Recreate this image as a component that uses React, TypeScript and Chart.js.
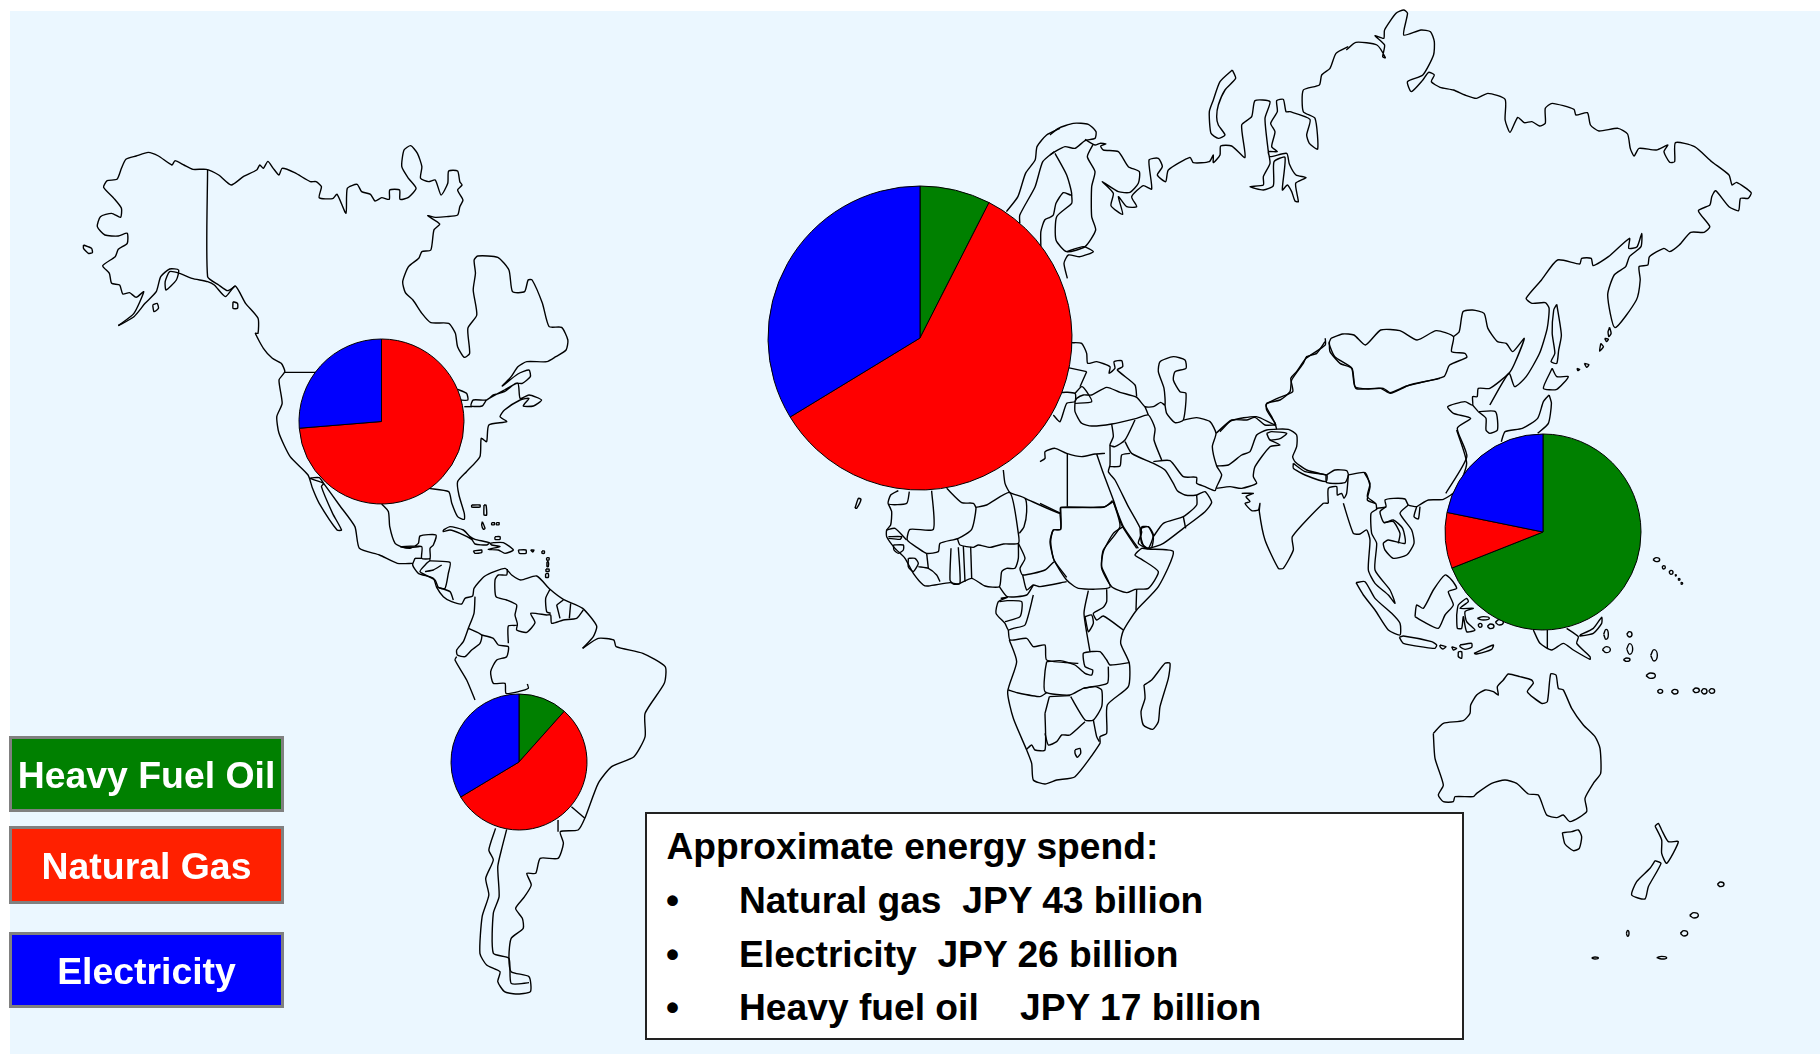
import React, { useEffect, useRef } from "react";
import { Chart, registerables } from "chart.js";

Chart.register(...registerables);

const categories = ["Heavy Fuel Oil", "Natural Gas", "Electricity"];
const pieColors = ["#008000", "#FF0000", "#0000FF"];
const legendColors = ["#008000", "#FF2000", "#0000FF"];

const europeShare = [7.5, 58.8, 33.7];
const northAmericaShare = [0, 73.7, 26.3];
const southAmericaShare = [11.6, 54.8, 33.6];
const asiaShare = [69, 9.2, 21.8];

const spendTitle = "Approximate energy spend:";
const spendLines = ["Natural gas  JPY 43 billion", "Electricity  JPY 26 billion", "Heavy fuel oil    JPY 17 billion"];

type Trace = { o: number[]; l: number[][] };

const northAmerica: Trace = { o: [0, 100, 2.24], l: [
  [265,677,300,640,322,575,305,592,290,578,275,582,268,555,250,550,245,520,230,497,258,470,265,448,285,430,285,400,265,408,235,405,218,380,225,350,250,340,270,352,272,325,255,295,232,262,240,242,262,238,272,205,282,178,305,168,332,157,355,168,385,195,392,182,412,195,432,208,462,208,490,225,518,255,545,230,575,210,582,195,590,205,600,184,612,205,625,225,632,205,660,218,695,245,708,245,720,260,715,293,745,296,755,283,775,340,778,265,800,253,810,275,830,283,840,303,855,293,872,298,873,270,895,270,896,298,915,292,932,265,915,235,900,200,905,150,920,137,935,160,945,200,942,235,960,245,975,240,988,285,1003,250,1005,213,1025,213,1030,245,1035,255,1025,270,1037,300,1030,320,1025,345,1000,350,975,352,958,347,985,372,972,390,965,450,945,455,938,475,915,500,902,545,908,578,925,600,945,640,965,668,1005,670,1020,700,1025,740,1040,772,1052,760,1048,685,1068,645,1060,570,1065,520,1062,480,1070,468,1115,472,1140,510,1148,575,1175,575,1183,540,1192,540,1215,610,1230,680,1258,682,1272,720,1268,750,1245,770,1225,785,1180,785,1160,800,1145,830,1125,858,1160,822,1185,810,1188,830,1170,850,1155,850,1130,875,1105,885,1090,900,1060,900,1055,918,1080,918,1090,900,1130,870,1160,850,1165,895,1185,885,1213,900,1195,918,1172,918,1185,895,1165,900,1130,930,1120,950,1135,965,1095,975,1090,1025,1078,1015,1075,1070,1045,1115,1025,1145,1028,1185,1040,1240,1040,1258,1025,1250,1012,1210,1005,1175,960,1165],
  [265,677,300,650,325,610,350,575,360,530,380,507,400,510,395,540,372,570,370,545,380,515,402,520,430,535,465,545,480,555,505,590,527,558,550,610,578,655,578,700,572,700,590,745,610,775,630,790,638,815,625,840,632,910,620,950,625,1000,650,1070,690,1125,700,1165,715,1210,755,1290,765,1290,745,1240,720,1160,725,1150,695,1135,715,1133,725,1150,760,1215,795,1280,805,1345,850,1365,890,1390,925,1390],
  [465,208,465,530,490,555,510,572,527,558],
  [638,817,710,817],
  [1040,920,1058,920],
  [1025,868,1045,880,1048,900,1030,900],
  [855,1212,870,1235,873,1280,885,1330,905,1343,940,1340],
  [187,435,205,445,207,458,198,460,187,445,187,435],
  [342,615,352,610,355,625,345,635,342,615],
  [522,605,532,610,532,625,522,625,522,605],
]};

const centralAmerica: Trace = { o: [400, 500, 3], l: [
  [0,140,30,145,55,130,60,108,108,105,100,135,90,145,90,175,65,175,65,140,0,140],
  [45,175,38,195,55,220,100,235,110,262,130,290,155,305,185,312,195,295,218,288,222,265,255,228,315,205,335,225,362,240,410,228,450,268,490,298,548,325,590,378,580,410,548,445],
  [45,175,65,175],
  [90,175,90,182,150,187,145,220,135,265,115,262,105,240,60,215,80,190,90,182],
  [75,215,100,210,125,195],
  [112,262,150,275,160,300],
  [130,90,150,80,190,90,210,110,225,118,268,128,260,135,225,132,215,118,180,100,150,90,130,95,130,90],
  [270,130,280,128,310,128,340,150,315,160,295,150,265,148,300,140,275,135,270,130],
  [220,153,245,150,245,158,225,160,220,153],
  [355,150,378,150,378,160,358,160,355,150],
  [392,150,402,150,398,156,392,150],
  [215,15,240,15,240,21,215,21,215,15],
  [252,15,258,15,260,45,252,45,252,15],
  [247,65,255,85,250,88,245,75,247,65],
  [275,68,283,68,283,74,275,74,275,68],
  [289,68,297,68,297,74,289,74,289,68],
  [285,110,300,110,300,118,285,118,285,110],
  [426,153,433,153,433,160,426,160,426,153],
  [440,173,447,173,447,180,440,180,440,173],
  [441,185,445,185,445,200,441,200,441,185],
  [438,207,447,207,447,214,438,214,438,207],
  [437,221,445,221,445,232,437,232,437,221],
  [322,207,320,225,295,225,285,240,288,290,320,300,350,315,345,345,352,375,325,378,325,430],
  [225,290,222,340,205,385,190,425,170,450,172,465,195,470,215,450,240,430,245,405,205,385],
  [245,405,280,415,295,435,325,440,320,470,290,480,272,515,280,550,315,550,318,580,355,575,385,565,382,552],
  [170,470,165,480,200,540,225,600],
  [352,375,350,390,380,397,405,368,392,340,440,345,452,345,455,370,490,360,530,355,550,330],
  [450,268,437,295,440,335,452,340],
  [470,315,480,355],
  [470,315,490,300],
  [512,310,508,355],
]};

const southAmerica: Trace = { o: [0, 550, 2.24], l: [
  [1305,295,1340,265,1375,270,1380,290,1440,310,1490,350,1488,400,1445,490,1445,560,1420,620,1370,650,1340,700,1310,805,1295,840,1255,845,1262,880,1250,925,1210,925,1200,970,1180,970,1190,1005,1175,1040,1155,1075,1170,1105,1172,1135,1145,1165,1140,1220,1145,1265,1185,1280,1188,1325,1155,1332,1130,1325,1115,1295,1120,1265,1090,1245,1075,1210,1080,1100,1095,1035,1088,985,1105,930,1095,900,1110,835],
  [1135,838,1125,890,1115,950,1118,1040,1105,1090,1105,1210,1140,1225,1145,1300,1185,1298],
  [1250,810,1250,845],
  [1310,805,1280,770],
]};

const europeNorth: Trace = { o: [1050, 40, 3], l: [
  [0,285,25,265,70,250,115,253,138,275,135,295,105,302,75,325,45,320,15,335,0,345],
  [15,340,50,405,65,465,40,458,18,490,10,525,0,532],
  [130,312,112,350,135,395,125,440,125,530,137,570,105,620,50,635,18,600,20,530,65,490,65,465],
  [50,635,100,620,130,635,90,650,55,645,42,670,52,715],
  [105,298,135,315,150,310,168,312,152,318,160,330,205,335,235,380,268,395,265,430,240,457,205,455,157,425,190,460,183,497,218,523,205,470,230,500,260,500,245,470,280,437,305,447,297,360,325,355,337,380,322,405,347,425,355,390,420,352,430,368,478,365,490,345,490,368,510,345,512,318,545,318,585,352,575,255,605,230,615,182,660,185,645,235,655,335,660,370,640,410,640,435,600,440,640,450,670,437,672,365,705,352,697,450,712,435,725,455,735,483,745,485,737,430,768,413,738,405,718,372,710,340,660,350,655,335,682,335,665,320,675,275,662,250,682,215,680,182,700,178,708,215,720,215,780,238,770,285,778,310,803,327,795,235,760,215,760,150,808,135,815,105,840,85,858,40,895,20],
  [547,90,557,115,525,150,505,195,500,230,505,255,525,285,505,295,483,280,478,215,490,180,510,125,547,90],
]};

const norway: Trace = { o: [750, 100, 2.613], l: [
  [670,335,700,290,720,220,745,180,750,140,775,105,810,85],
  [795,155,765,185,745,260,705,345,705,370],
  [784,352,770,360,760,395,760,440],
]};

const russiaEast: Trace = { o: [1220, 0, 2.613], l: [
  [330,150,355,127,410,135,432,173,425,170,430,135,405,107,428,115,430,90,460,40,480,30,490,40,480,105,525,90,550,95,560,125,558,165,530,225,490,245,500,275,530,240,545,217,560,225,552,245,575,262,610,270,640,285,670,295,700,280,745,298,745,360,758,397,778,352,795,368,815,365,835,378,850,370,850,325,868,310,925,328,930,345,960,338,968,375,990,393,1040,385,1065,402,1072,445,1082,468,1095,445,1140,450,1170,435,1160,455,1175,487,1188,485,1190,428,1240,440,1285,485,1330,525,1338,555,1350,547,1388,578,1380,595,1360,595,1355,632,1330,620,1295,572,1285,590,1280,615,1250,632,1280,680,1265,697,1230,697,1200,735,1175,755,1160,745,1122,770,1118,795,1095,800,1098,840,1088,900,1032,983,1013,885,1030,825,1060,800,1070,770,1100,740,1102,700,1090,740,1068,745,1070,715,1015,770,975,797,970,775,945,775,940,792,882,780,840,840,800,895,815,910,850,908,860,925,855,985,835,1060,800,1130,770,1160,755,1120,705,1215],
  [290,1015,320,1002,350,1005,380,1035,420,990,470,992,515,1020,565,992,610,1010,605,1055,640,1060,645,1072,600,1095,585,1130,495,1155,445,1180,420,1165,355,1165,345,1105,300,1070,285,1030,290,1015],
  [275,1015,275,1035,225,1075,200,1115,185,1135,190,1175,150,1195,120,1215,135,1250,145,1275,95,1250,30,1262,0,1295],
  [610,1010,625,995,635,935,660,930,690,940,700,985,725,1025,748,1030,765,1055,795,1015,770,1090,755,1120,705,1165,675,1165,672,1190,660,1190,660,1215,640,1205,595,1220,610,1240,655,1255,620,1285,645,1370,590,1480],
  [675,1235,720,1235,725,1290,705,1300,695,1290,695,1255,675,1235],
  [660,1215,675,1235],
  [880,913,872,930,868,1000,875,1060,865,1085,880,1090,885,1050,892,1005,880,913],
  [868,1105,845,1165,880,1168,910,1130,880,1130,868,1105],
  [860,1185,845,1205,830,1255,790,1285,745,1295,735,1325],
  [860,1185,866,1210,858,1270,830,1300],
  [1018,982,1022,1000,1016,1010,1014,995,1018,982],
  [1005,1015,1015,1018,1010,1025,1005,1015],
  [995,1030,1002,1040,992,1053,995,1030],
  [952,1090,964,1094,958,1102,952,1090],
  [933,1105,940,1108,935,1112,933,1105],
]};

const middleEast: Trace = { o: [1040, 340, 3], l: [
  [95,8,125,10,140,40,143,70,170,65,210,80,207,100,225,85,222,65,245,62,248,80,232,90,285,135,290,170],
  [105,185,110,175,130,165,155,165,200,142,240,157,290,172,315,200,340,200,362,187,375,195,372,145,355,95,360,65,400,50,435,60,438,85,405,95,400,120,420,155,438,160,430,240,405,248,380,220,375,195],
  [430,240,470,233,510,245,528,280,517,320,530,378,545,405,530,440,525,452,495,440,470,430,470,412,430,410,390,362,340,365],
  [105,185,105,215,125,250,155,258,215,252,290,235,325,225,345,265,342,300,365,360],
  [315,200,325,225],
  [215,252,220,290,210,315,225,320,255,300,285,240],
  [255,305,275,340,340,370,375,390,400,430,412,452,435,465,470,465,495,455,515,487,495,515,430,565,370,610,325,625,295,610,305,575,265,500,225,420,205,395,210,375,210,315],
  [0,365,15,355,15,335,45,325,80,340,125,350,165,342,195,340],
  [170,342,190,400,222,485,245,555,290,625],
  [82,340,82,500],
  [62,503,195,500,218,482],
  [0,490,62,520],
  [62,503,62,568,40,570,32,605,42,660,80,712],
  [340,590,370,550,430,530,470,495,470,465],
  [430,530,437,565],
  [305,560,325,560,340,590,335,622,315,625,302,590,305,560],
  [210,380,240,378,245,345,270,340],
  [528,280,575,240,620,240,645,232,675,255,705,255],
  [530,378,565,375,605,345,630,335,650,285,680,270,745,268,770,285,770,320,758,350,765,365,800,390,858,405],
  [680,280,695,275,740,280,722,295,690,300,680,280],
  [690,300,720,315,690,320,645,380,640,410,650,430,605,445,570,440,530,445],
  [605,460,640,460,618,470,630,485,615,490,635,512,655,510,660,490,658,515,675,600,715,685,730,685,760,630,757,590,850,490,865,490],
  [710,268,705,250,680,210,680,190,720,180,750,155,755,120,790,70,800,50,830,40,855,5],
  [868,5,870,35,900,70,935,85,945,140,985,147,1030,145,1050,158,1100,138,1200,115],
  [760,370,795,395,860,405,858,425,795,405,760,385,760,370],
  [860,405,885,390,920,392,925,405,915,428,860,428,858,405],
  [925,405,975,398,990,440,982,480,1005,490],
  [865,490,865,445,890,440,892,465,905,460,912,475,920,460,925,405],
  [0,260,60,160,105,160,105,185,80,190,60,245,40,225],
  [105,160,125,140,140,155,155,185,105,190],
  [70,80,140,95],
  [120,140,140,95],
]};

const southeastAsia: Trace = { o: [1260, 400, 3], l: [
  [250,310,280,400,300,402,320,390,330,420,325,510,345,550,385,585,405,610,390,570,345,510,350,430,335,400,333,340,350,328],
  [313,218,330,250,322,290,348,312,350,330],
  [350,325,378,320,375,300,400,295,435,297,445,315,470,320,478,315,505,300,550,298,590,270,620,190,590,90],
  [445,315,420,340,455,390,462,430,440,465,400,475,375,450,370,430,385,420,435,430,428,385,400,360,372,368,360,335,378,320],
  [372,368,400,365,420,400,415,430],
  [470,320,462,350,475,357,480,320],
  [288,548,315,545,345,595,395,640,420,670,420,705,385,690,345,630,310,585,288,548],
  [418,712,430,708,515,725,530,735,525,745,495,742,430,730,418,712],
  [540,735,558,740,548,747,540,740,540,735],
  [575,740,590,745,580,750,575,740],
  [600,735,635,730,635,742,615,748,600,740,600,735],
  [595,755,605,755,605,775,595,770,595,755],
  [642,760,700,735,695,748,650,762,642,760],
  [465,650,470,615,490,625,520,570,555,525,575,540,590,565,565,575,580,615,555,645,535,685,490,665,465,650],
  [590,645,595,615,620,595,625,605,600,625,640,625,615,635,620,665,645,690,620,695,610,650,605,685,592,685,590,645],
]};

const oceania: Trace = { o: [1300, 500, 3], l: [
  [700,390,720,430,755,450,790,430,820,450,870,478,870,470,830,430,835,410,800,385],
  [742,390,742,445],
  [840,405,880,385,905,352,905,370,880,400,840,408,840,405],
  [400,700,430,670,490,662,510,640,512,615,530,585,555,570,580,575,595,585,592,560,610,540,625,522,660,530,695,540,700,550,682,575,725,610,742,605,752,522,768,525,775,565,790,570,815,625,850,675,885,710,900,745,902,820,880,850,855,895,860,935,810,965,790,945,770,953,740,945,715,885,685,882,650,850,615,840,575,850,530,880,520,890,465,890,460,905,430,905,415,885,430,855,405,775,400,700],
  [787,998,815,995,835,990,845,1010,838,1045,820,1052,795,1032,787,998],
  [1065,978,1075,970,1085,990,1105,1025,1135,1025,1100,1090,1085,1060,1085,1020,1065,978],
  [1065,1082,1083,1090,1045,1160,1035,1197,995,1185,1010,1145,1050,1105,1065,1082],
]};

const oceaniaIslands = [
  [1069,179,10,6],[1091,202,5,5],[1113,217,6,6],[1127,226,2,2],[1137,238,3,3],[1145,250,3,3],[918,403,7,15],[988,403,8,8],
  [919,449,12,9],[989,447,9,16],[980,479,10,5],[1062,466,10,17],[1052,527,14,8],[1080,574,8,6],[1124,575,10,7],[1188,571,10,7],
  [1212,574,9,8],[1235,573,9,7],[1262,1153,10,7],[1182,1246,13,8],[1152,1300,11,8],[983,1300,4,9],[885,1374,10,3],[1085,1373,15,4],
  [550,355,18,5],[540,376,6,6],[572,379,10,7],[598,367,12,8],
];

const africaNorth: Trace = { o: [870, 470, 3], l: [
  [85,62,62,75,55,102,110,100,118,65],
  [55,102,65,125,62,165,50,180,50,200,75,235,105,265,130,310,160,345,175,348,240,338,265,342,305,325,345,348,388,350,395,305,410,295,435,295,445,265,445,220],
  [185,62,190,178,120,178,112,210,145,235,170,250,205,245,210,220,265,205,305,178,318,115,310,100,275,98,230,55],
  [318,112,350,105,420,68,445,190,445,220,400,222,360,232,325,225,310,232,270,225,262,205],
  [400,0,405,40,420,68,465,85,470,125,462,170,448,190],
  [465,85,570,130,572,112,700,112,730,95],
  [570,130,572,178,550,180,540,215,552,270,590,330,625,355,720,352,695,290,700,240,750,170,730,95],
  [445,220,465,265,450,295,458,315,525,300,552,275],
  [458,315,470,360,490,345,510,350,590,335],
  [388,350,412,380,470,375,490,345],
  [392,385,412,382,385,395,378,430,405,460,415,480,430,475,465,465,490,375],
  [388,395,412,392,455,395,450,440,405,455],
  [415,480,420,510,470,505,490,530,525,525,530,570,625,580],
  [243,235,240,330,250,342,270,340,265,232],
  [280,228,285,335],
  [302,230,305,325],
  [50,180,75,175,110,210],
  [55,200,95,200,90,208,55,205],
  [70,225,100,225,100,240,85,250,72,240,70,225],
  [115,265,135,265,145,280,130,305,115,290,115,265],
  [145,290,175,295,200,315,210,335],
  [175,295,170,250],
]};

const africaSouth: Trace = { o: [840, 470, 3], l: [
  [820,95,850,170,895,235],
  [900,175,925,170,940,195,925,235,905,220,900,175],
  [850,170,820,190,790,245,785,295,815,350,860,368,885,358,925,355,955,305,905,268,885,255,905,235,925,237,1000,245,955,350,890,420,850,482,842,520,868,580,865,650,802,705,800,790,780,800,780,820,705,920,650,930,615,942,580,930,575,880,560,840,520,745,503,665,530,575,508,510],
  [890,358,888,420],
  [850,480,790,438,770,450,760,430,790,412,800,395,800,358],
  [745,362,732,430,750,545],
  [735,440,755,435,760,460,745,485,735,440],
  [750,545,780,545,800,570,810,585,868,578],
  [620,575,660,572,705,585,735,610,755,615,758,600,735,590,730,550,752,545],
  [620,575,615,605,615,665,690,675,730,655,802,640,805,590],
  [505,660,530,668,600,680,620,668],
  [615,730,615,840,585,840,575,825,560,838],
  [628,680,690,677],
  [615,730,628,680],
  [692,680,735,750,760,750,785,710,785,660,765,650,730,655],
  [615,790,625,825,650,815,665,795,690,795,735,755],
  [760,750,770,800,778,815],
  [705,840,720,835,722,850,712,862,705,850,705,840],
  [912,645,935,630,975,580,990,580,985,625,960,710,955,755,938,778,910,765,903,725,915,685,912,645],
  [45,115,55,85,63,88,50,115,45,115],
]};

const mapTraces = [northAmerica, centralAmerica, southAmerica, europeNorth, norway, russiaEast, middleEast, southeastAsia, oceania, africaNorth, africaSouth];

const toMapPoints = (o: number[], flat: number[]) => {
  const pts: { x: number; y: number }[] = [];
  for (let i = 0; i < flat.length; i += 2) pts.push({ x: o[0] + flat[i] / o[2], y: o[1] + flat[i + 1] / 3 });
  return pts;
};

function MapOutline() {
  const ref = useRef<HTMLCanvasElement>(null);
  useEffect(() => {
    const base = { showLine: true, pointRadius: 0, borderColor: "#000000", borderWidth: 1.4, fill: false, borderJoinStyle: "round" };
    const datasets: any[] = [];
    mapTraces.forEach((t) => t.l.forEach((flat) => datasets.push({ ...base, tension: 0.2, data: toMapPoints(t.o, flat) })));
    oceaniaIslands.forEach(([cx, cy, rx, ry]) =>
      datasets.push({
        ...base,
        tension: 0.55,
        data: toMapPoints(oceania.o, [cx - rx, cy, cx, cy - ry, cx + rx, cy, cx, cy + ry, cx - rx, cy]),
      })
    );
    const chart = new Chart(ref.current as HTMLCanvasElement, {
      type: "scatter",
      data: { datasets },
      options: {
        animation: false,
        responsive: false,
        layout: { padding: 0 },
        plugins: { legend: { display: false }, tooltip: { enabled: false } },
        scales: {
          x: { type: "linear", min: 0, max: 1820, display: false },
          y: { type: "linear", min: 0, max: 1054, reverse: true, display: false },
        },
      },
    });
    return () => chart.destroy();
  }, []);
  return <canvas ref={ref} width={1820} height={1054} style={{ position: "absolute", left: 0, top: 0 }} />;
}

function Pie({ values, cx, cy, r }: { values: number[]; cx: number; cy: number; r: number }) {
  const ref = useRef<HTMLCanvasElement>(null);
  const size = 2 * r + 6;
  useEffect(() => {
    const chart = new Chart(ref.current as HTMLCanvasElement, {
      type: "pie",
      data: {
        labels: categories,
        datasets: [{ data: values, backgroundColor: pieColors, borderColor: "#000000", borderWidth: 1, borderAlign: "center" }],
      },
      options: {
        animation: false,
        responsive: false,
        radius: r,
        layout: { padding: 0 },
        plugins: { legend: { display: false }, tooltip: { enabled: false } },
      } as any,
    });
    return () => chart.destroy();
  }, []);
  return <canvas ref={ref} width={size} height={size} style={{ position: "absolute", left: cx - r - 3, top: cy - r - 3 }} />;
}

const font = '"Liberation Sans", Arial, sans-serif';

export default function App() {
  const legendBoxes = [
    { top: 736, height: 76, baseline: 788 },
    { top: 826, height: 78, baseline: 879 },
    { top: 932, height: 76, baseline: 984 },
  ];
  const spendBaselines = [859, 913, 967, 1020];
  return (
    <div style={{ position: "fixed", left: 0, top: 0, width: 1820, height: 1054, overflow: "hidden", background: "#FFFFFF", fontFamily: font }}>
      <div style={{ position: "absolute", left: 10, top: 11, right: 0, bottom: 0, background: "#EBF7FF" }} />
      <MapOutline />
      <Pie values={europeShare} cx={919.5} cy={338} r={152} />
      <Pie values={northAmericaShare} cx={381} cy={421.5} r={82.5} />
      <Pie values={southAmericaShare} cx={519} cy={761.5} r={68} />
      <Pie values={asiaShare} cx={1543} cy={532} r={98} />
      {categories.map((c, i) => (
        <div key={c} style={{ position: "absolute", left: 9, top: legendBoxes[i].top, width: 275, height: legendBoxes[i].height, boxSizing: "border-box", background: legendColors[i], border: "3px solid #808080" }}>
          <div style={{ position: "absolute", left: -3, right: -3, top: legendBoxes[i].baseline - legendBoxes[i].top - 34, textAlign: "center", color: "#FFFFFF", fontWeight: 700, fontSize: 37.4, lineHeight: "36px", whiteSpace: "pre" }}>{c}</div>
        </div>
      ))}
      <div style={{ position: "absolute", left: 645, top: 812, width: 819, height: 228, boxSizing: "border-box", background: "#FFFFFF", border: "2px solid #222222" }} />
      <div style={{ position: "absolute", left: 666.5, top: spendBaselines[0] - 31, fontWeight: 700, fontSize: 37.2, lineHeight: "37px", color: "#000", whiteSpace: "pre" }}>{spendTitle}</div>
      {spendLines.map((t, i) => (
        <React.Fragment key={t}>
          <div style={{ position: "absolute", left: 666, top: spendBaselines[i + 1] - 31, fontWeight: 700, fontSize: 37.2, lineHeight: "37px", color: "#000" }}>{"\u2022"}</div>
          <div style={{ position: "absolute", left: 739, top: spendBaselines[i + 1] - 31, fontWeight: 700, fontSize: 37.2, lineHeight: "37px", color: "#000", whiteSpace: "pre" }}>{t}</div>
        </React.Fragment>
      ))}
    </div>
  );
}
